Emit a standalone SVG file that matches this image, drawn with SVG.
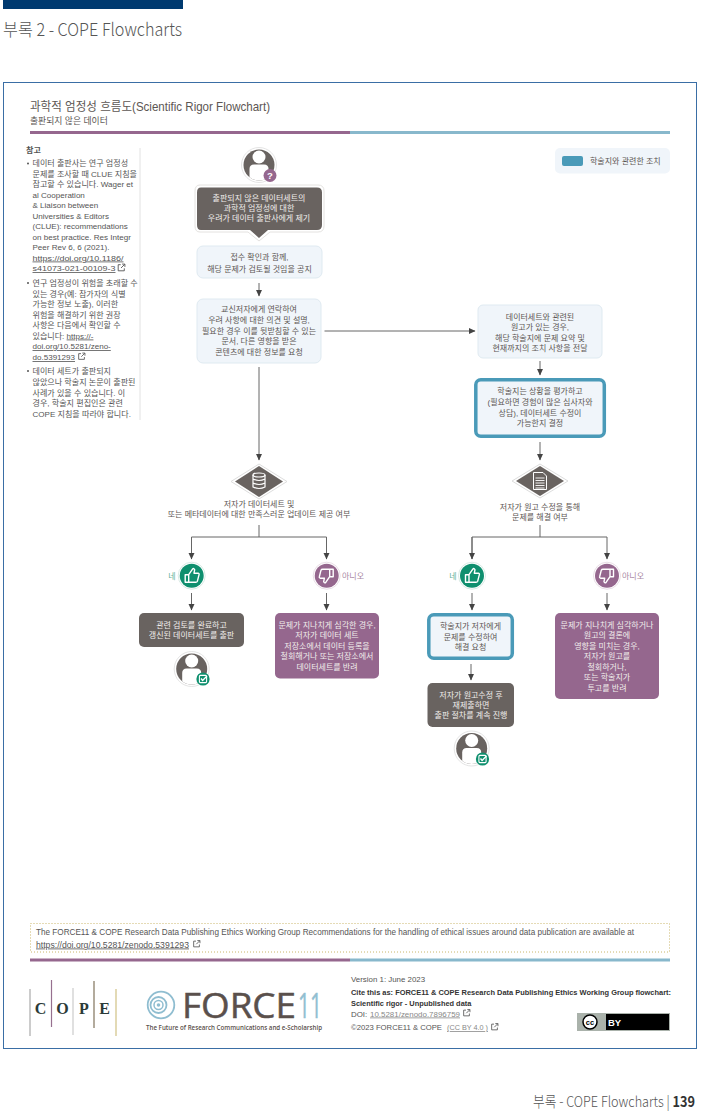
<svg xmlns="http://www.w3.org/2000/svg" xmlns:xlink="http://www.w3.org/1999/xlink" width="704" height="1112" viewBox="0 0 704 1112">
<style>
text{font-family:"Liberation Sans","Noto Sans CJK KR",sans-serif;fill:#5c5653;font-size:8px}
.c{text-anchor:middle}
.w{fill:#f1eeec}
.n{font-size:8.050px;fill:#555}
.b{font-weight:bold}
.u{text-decoration:underline}
.f{font-size:8.200px;fill:#555}
.v{font-size:7.900px;fill:#555}
.k{font-size:7.400px;fill:#333;font-weight:bold}
.l{fill:#888}
.head{font-family:"Noto Sans CJK KR","Open Sans",sans-serif;fill:#555;font-weight:300}
.light{fill:#f0f5fa;stroke:#dfeaf1;stroke-width:1}
.teal{fill:#f0f5fa;stroke:#4a9ab8;stroke-width:3.500}
.gray{fill:#696360}
.pur{fill:#95678e}
.ln{fill:none;stroke:#666;stroke-width:1}
.cope{font-family:"Liberation Serif",serif;font-size:16px;font-weight:bold;fill:#2b3a38;text-anchor:middle}
.force{font-family:"Open Sans",sans-serif;font-size:35px;stroke-width:.5}
</style>
<defs>
<marker id="ah" markerUnits="userSpaceOnUse" markerWidth="7" markerHeight="8" refX="6.500" refY="4" orient="auto"><path d="M0 .8L7 4L0 7.200z" fill="#444"/></marker>
<symbol id="ext" viewBox="0 0 8 8" overflow="visible"><path d="M3.200 1.200H.7V7.300H6.800V4.800M4.600.6H7.400V3.400M7.200.8L3.500 4.500" fill="none" stroke="#555" stroke-width=".9"/></symbol>
<clipPath id="pc"><circle r="15.500"/></clipPath>
<g id="person"><circle r="17.500" fill="#fff" stroke="#ddd" stroke-width=".8"/><circle r="15.500" fill="#696360"/><g clip-path="url(#pc)"><circle cy="-8" r="6.500" fill="#fff"/><path d="M-9.500 17V4Q-9.500 -.5-5-.5H5Q9.500 -.5 9.500 4V17z" fill="#fff"/></g></g>
<g id="okb"><circle r="6.600" fill="#0e8f6e"/><rect x="-3.600" y="-3.600" width="7.200" height="7.200" rx="1" fill="none" stroke="#fff" stroke-width="1.100"/><path d="M-2-.5L-.4 1.500L4-3" fill="none" stroke="#fff" stroke-width="1.300"/></g>
<path id="thumb" d="M-6.500 -1H-3V6.500H-6.500zM-3 -1L.8-6.500Q2-8 3-6L2.300-2.500H6.500Q7.800-2 7.300-.8L5.700 5.500Q5.300 6.500 4 6.500H-3" fill="none" stroke="#fff" stroke-width="1.400" stroke-linejoin="round"/>
</defs>

<g id="header">
<rect x="3" y="0" width="180" height="9" fill="#003a70"/>
<text x="3" y="36" class="head" style="font-size:17.500px" textLength="179" lengthAdjust="spacingAndGlyphs">부록 2 - COPE Flowcharts</text>
<text x="533" y="1107" class="head" style="font-size:14.500px" textLength="162" lengthAdjust="spacingAndGlyphs">부록 - COPE Flowcharts | <tspan font-weight="bold" fill="#333">139</tspan></text>
</g>
<rect id="frame" x="3.500" y="82.500" width="693" height="966" fill="#fff" stroke="#3a6ea5" stroke-width="1"/>

<g id="title">
<text x="30" y="111" style="font-size:12.400px" fill="#555" textLength="240" lengthAdjust="spacingAndGlyphs">과학적 엄정성 흐름도(Scientific Rigor Flowchart)</text>
<text x="30" y="124" style="font-size:8.800px">출판되지 않은 데이터</text>
<rect x="30" y="131" width="320" height="3" fill="#95678e"/><rect x="350" y="131" width="320" height="3" fill="#88b8cc"/>
</g>

<g id="notes">
<text x="26" y="153" class="n b">참고</text>
<path d="M140 148V420" stroke="#e2e2e2" stroke-width="1"/>
<circle cx="28" cy="163.500" r="1" fill="#555"/><circle cx="28" cy="283" r="1" fill="#555"/><circle cx="28" cy="371" r="1" fill="#555"/>
<text x="32.500" y="166" class="n">데이터 출판사는 연구 엄정성</text>
<text x="32.500" y="176.500" class="n">문제를 조사할 때 CLUE 지침을</text>
<text x="32.500" y="187" class="n">참고할 수 있습니다. Wager et</text>
<text x="32.500" y="197.500" class="n">al Cooperation</text>
<text x="32.500" y="208" class="n">&amp; Liaison between</text>
<text x="32.500" y="218.500" class="n">Universities &amp; Editors</text>
<text x="32.500" y="229" class="n">(CLUE): recommendations</text>
<text x="32.500" y="239.500" class="n">on best practice. Res Integr</text>
<text x="32.500" y="250" class="n">Peer Rev 6, 6 (2021).</text>
<text x="32.500" y="260.500" class="n u" textLength="91" lengthAdjust="spacingAndGlyphs">https://doi.org/10.1186/</text>
<text x="32.500" y="271" class="n u" textLength="83" lengthAdjust="spacingAndGlyphs">s41073-021-00109-3</text>
<use xlink:href="#ext" x="117.500" y="263.500" width="8" height="8"/>
<text x="32.500" y="286" class="n">연구 엄정성이 위험을 초래할 수</text>
<text x="32.500" y="296.500" class="n">있는 경우(예: 참가자의 식별</text>
<text x="32.500" y="307" class="n">가능한 정보 노출), 이러한</text>
<text x="32.500" y="317.500" class="n">위험을 해결하기 위한 권장</text>
<text x="32.500" y="328" class="n">사항은 다음에서 확인할 수</text>
<text x="32.500" y="338.500" class="n">있습니다: <tspan class="u">https://-</tspan></text>
<text x="32.500" y="349" class="n u">doi.org/10.5281/zeno-</text>
<text x="32.500" y="360" class="n u">do.5391293</text>
<use xlink:href="#ext" x="78" y="352.500" width="7.500" height="7.500"/>
<text x="32.500" y="374" class="n">데이터 세트가 출판되지</text>
<text x="32.500" y="385" class="n">않았으나 학술지 논문이 출판된</text>
<text x="32.500" y="395.500" class="n">사례가 있을 수 있습니다. 이</text>
<text x="32.500" y="406" class="n">경우, 학술지 편집인은 관련</text>
<text x="32.500" y="416.500" class="n">COPE 지침을 따라야 합니다.</text>
</g>

<g id="legend">
<rect x="555" y="148" width="115" height="25.500" rx="5" fill="#f0f5fa"/>
<rect x="562" y="156" width="21" height="10" rx="2" fill="#4a9ab8"/>
<text x="590" y="164">학술지와 관련한 조치</text>
</g>

<g id="connectors">
<path class="ln" d="M259 283V296" marker-end="url(#ah)"/>
<path class="ln" d="M259 367V460" marker-end="url(#ah)"/>
<path class="ln" d="M324.500 331H475" marker-end="url(#ah)"/>
<path class="ln" d="M540 361V375" marker-end="url(#ah)"/>
<path class="ln" d="M540 442V460" marker-end="url(#ah)"/>
<path class="ln" d="M259 525V537M191.500 559V537H326.500V559" marker-end="url(#ah)"/>
<path class="ln" d="M191.500 537V559" marker-end="url(#ah)"/>
<path class="ln" d="M540 525V537M472 559V537H607V559" marker-end="url(#ah)"/>
<path class="ln" d="M472 537V559" marker-end="url(#ah)"/>
<path class="ln" d="M191.500 593V610" marker-end="url(#ah)"/>
<path class="ln" d="M326.500 593V610" marker-end="url(#ah)"/>
<path class="ln" d="M472 593V610" marker-end="url(#ah)"/>
<path class="ln" d="M607 593V610" marker-end="url(#ah)"/>
<path class="ln" d="M471 664V680" marker-end="url(#ah)"/>
</g>

<g id="start">
<use xlink:href="#person" x="259" y="165"/>
<circle cx="270" cy="175.500" r="6.500" fill="#95678e"/>
<text x="270" y="178.800" class="c b" style="font-size:9.500px;fill:#fff">?</text>
</g>
<g id="n1">
<path d="M200 185H318Q324 185 324 191V226Q324 232 318 232H270L259 241L248 232H200Q195 232 195 226V191Q195 185 200 185z" fill="#fff" stroke="#e4e2e0"/>
<path d="M201 187.500H317Q322 187.500 322 192.500V225Q322 230 317 230H268L259 238L250 230H201Q197 230 197 225V192.500Q197 187.500 201 187.500z" fill="#696360"/>
<text x="259" y="201" class="c w">출판되지 않은 데이터세트의</text>
<text x="259" y="211" class="c w">과학적 엄정성에 대한</text>
<text x="259" y="221" class="c w">우려가 데이터 출판사에게 제기</text>
</g>
<g id="n2">
<rect x="197" y="246" width="125" height="32" rx="6" class="light"/>
<text x="259.500" y="260" class="c">접수 확인과 함께,</text>
<text x="259.500" y="272" class="c">해당 문제가 검토될 것임을 공지</text>
</g>
<g id="n3">
<rect x="197" y="299" width="124" height="64" rx="6" class="light"/>
<text x="259" y="312" class="c">교신저자에게 연락하여</text>
<text x="259" y="323" class="c">우려 사항에 대한 의견 및 설명,</text>
<text x="259" y="333.500" class="c">필요한 경우 이를 뒷받침할 수 있는</text>
<text x="259" y="344" class="c">문서, 다른 영향을 받은</text>
<text x="259" y="355" class="c">콘텐츠에 대한 정보를 요청</text>
</g>
<g id="n4">
<rect x="478" y="305" width="124" height="53" rx="5" class="light"/>
<text x="540" y="320" class="c">데이터세트와 관련된</text>
<text x="540" y="330" class="c">원고가 있는 경우,</text>
<text x="540" y="340.500" class="c">해당 학술지에 문제 요약 및</text>
<text x="540" y="351" class="c">현재까지의 조치 사항을 전달</text>
</g>
<g id="n5">
<rect x="475.800" y="379.800" width="128.500" height="56.500" rx="5" class="teal"/>
<text x="540" y="394" class="c">학술지는 상황을 평가하고</text>
<text x="540" y="405" class="c">(필요하면 경험이 많은 심사자와</text>
<text x="540" y="416" class="c">상담), 데이터세트 수정이</text>
<text x="540" y="426" class="c">가능한지 결정</text>
</g>
<g id="d1">
<path d="M259 464L287 481.500L259 499L231 481.500z" fill="#fff" stroke="#ddd"/>
<path d="M259 466L283 481.500L259 497L235 481.500z" fill="#696360"/>
<g fill="none" stroke="#fff" stroke-width="1.200"><ellipse cx="259" cy="475" rx="6" ry="2"/><path d="M253 475V487Q259 490 265 487V475M253 479Q259 482 265 479M253 483Q259 486 265 483"/></g>
<text x="259" y="507" class="c">저자가 데이터세트 및</text>
<text x="259" y="517" class="c">또는 메타데이터에 대한 만족스러운 업데이트 제공 여부</text>
</g>
<g id="d2">
<path d="M540 464L568 481L540 498L512 481z" fill="#fff" stroke="#ddd"/>
<path d="M540 466L564 481L540 496L516 481z" fill="#696360"/>
<path d="M533.500 472.500H543L546.500 476V489.500H533.500z" fill="none" stroke="#fff" stroke-width="1"/>
<path d="M535.500 478H544.500M535.500 480.500H544.500M535.500 483H544.500M535.500 485.500H544.500M535.500 488H544.500" stroke="#fff" stroke-width=".9"/>
<text x="540" y="510" class="c">저자가 원고 수정을 통해</text>
<text x="540" y="520" class="c">문제를 해결 여부</text>
</g>

<g id="y1"><circle cx="191.700" cy="575.700" r="13.500" fill="#fff" stroke="#cfe5dd" stroke-width=".8"/><circle cx="191.700" cy="575.700" r="12" fill="#0e8f6e"/><use xlink:href="#thumb" x="191.700" y="575.700"/><text x="172" y="579" class="c" style="fill:#5fae97">네</text></g>
<g id="no1"><circle cx="326.700" cy="575.700" r="13.500" fill="#fff" stroke="#e3d6e0" stroke-width=".8"/><circle cx="326.700" cy="575.700" r="12" fill="#95678e"/><use xlink:href="#thumb" transform="translate(326.700 575.700) rotate(180)"/><text x="353" y="579" class="c" style="fill:#a888a3">아니오</text></g>
<g id="y2"><circle cx="472" cy="575.700" r="13.500" fill="#fff" stroke="#cfe5dd" stroke-width=".8"/><circle cx="472" cy="575.700" r="12" fill="#0e8f6e"/><use xlink:href="#thumb" x="472" y="575.700"/><text x="453" y="579" class="c" style="fill:#5fae97">네</text></g>
<g id="no2"><circle cx="607" cy="575.700" r="13.500" fill="#fff" stroke="#e3d6e0" stroke-width=".8"/><circle cx="607" cy="575.700" r="12" fill="#95678e"/><use xlink:href="#thumb" transform="translate(607 575.700) rotate(180)"/><text x="633" y="579" class="c" style="fill:#a888a3">아니오</text></g>

<g id="n6">
<rect x="139" y="613" width="105" height="34" rx="5" class="gray"/>
<text x="191.500" y="627.500" class="c w">관련 검토를 완료하고</text>
<text x="191.500" y="638" class="c w">갱신된 데이터세트를 출판</text>
<use xlink:href="#person" x="191.700" y="669"/><use xlink:href="#okb" x="203" y="679"/>
</g>
<g id="n7">
<rect x="275" y="613" width="104" height="65.500" rx="5" class="pur"/>
<text x="327" y="628" class="c w">문제가 지나치게 심각한 경우,</text>
<text x="327" y="638" class="c w">저자가 데이터 세트</text>
<text x="327" y="648.500" class="c w">저장소에서 데이터 등록을</text>
<text x="327" y="659" class="c w">철회해거나 또는 저장소에서</text>
<text x="327" y="669.500" class="c w">데이터세트를 반려</text>
</g>
<g id="n8">
<rect x="428.800" y="614.800" width="83.500" height="43.500" rx="5" class="teal"/>
<text x="470.500" y="629" class="c">학술지가 저자에게</text>
<text x="470.500" y="640" class="c">문제를 수정하여</text>
<text x="470.500" y="650" class="c">해결 요청</text>
</g>
<g id="n9">
<rect x="427.500" y="683" width="86.500" height="44" rx="5" class="gray"/>
<text x="471" y="698" class="c w">저자가 원고수정 후</text>
<text x="471" y="708" class="c w">재제출하면</text>
<text x="471" y="718" class="c w">출판 절차를 계속 진행</text>
<use xlink:href="#person" x="471.700" y="748.500"/><use xlink:href="#okb" x="482.500" y="759"/>
</g>
<g id="n10">
<rect x="555" y="613" width="104" height="86" rx="5" class="pur"/>
<text x="607" y="628" class="c w">문제가 지나치게 심각하거나</text>
<text x="607" y="638" class="c w">원고의 결론에</text>
<text x="607" y="649" class="c w">영향을 미치는 경우,</text>
<text x="607" y="659" class="c w">저자가 원고를</text>
<text x="607" y="670" class="c w">철회하거나,</text>
<text x="607" y="680" class="c w">또는 학술지가</text>
<text x="607" y="690.500" class="c w">투고를 반려</text>
</g>

<g id="footer">
<rect x="30.500" y="923.500" width="639" height="28.500" fill="none" stroke="#c4ae5a" stroke-width=".9" stroke-dasharray="1 2"/>
<text x="36" y="935" class="f" textLength="598" lengthAdjust="spacingAndGlyphs">The FORCE11 &amp; COPE Research Data Publishing Ethics Working Group Recommendations for the handling of ethical issues around data publication are available at</text>
<text x="36" y="947.500" class="f u" textLength="153" lengthAdjust="spacingAndGlyphs">https://doi.org/10.5281/zenodo.5391293</text>
<use xlink:href="#ext" x="193" y="940" width="7.500" height="7.500"/>
<rect x="30" y="958.500" width="320" height="3" fill="#95678e"/><rect x="350" y="958.500" width="320" height="3" fill="#88b8cc"/>
<text x="351" y="982" class="v">Version 1: June 2023</text>
<text x="351" y="995" class="k" textLength="320" lengthAdjust="spacingAndGlyphs">Cite this as: FORCE11 &amp; COPE Research Data Publishing Ethics Working Group flowchart:</text>
<text x="351" y="1006" class="k">Scientific rigor - Unpublished data</text>
<text x="351" y="1016.500" class="v">DOI:</text>
<text x="370" y="1016.500" class="v u l" textLength="90" lengthAdjust="spacingAndGlyphs">10.5281/zenodo.7896759</text>
<use xlink:href="#ext" x="463" y="1009" width="7.500" height="7.500"/>
<text x="351" y="1030" class="v" textLength="91" lengthAdjust="spacingAndGlyphs">©2023 FORCE11 &amp; COPE</text>
<text x="447" y="1030" class="v u l" textLength="41" lengthAdjust="spacingAndGlyphs">(CC BY 4.0 )</text>
<use xlink:href="#ext" x="491" y="1023" width="7.500" height="7.500"/>
</g>

<g id="cc">
<rect x="577" y="1013" width="93" height="18" fill="#aab2ab"/>
<rect x="578" y="1014" width="91" height="16" fill="#000"/>
<rect x="578" y="1014" width="28" height="16" fill="#aab2ab"/>
<circle cx="590" cy="1022" r="7" fill="#fff" stroke="#000" stroke-width="1.500"/>
<text x="590" y="1024.500" class="c b" style="font-size:7.500px;fill:#000">cc</text>
<text x="608" y="1026" class="b" style="font-size:9.500px;fill:#fff">BY</text>
</g>

<g id="cope">
<path d="M30 989V1036" stroke="#aaa" stroke-width="1.200"/><path d="M51.500 980V1027" stroke="#96708f" stroke-width="1.200"/><path d="M73 988V1035" stroke="#ccc" stroke-width="1.200"/><path d="M94 981V1028" stroke="#80735c" stroke-width="1.200"/><path d="M116 989V1036" stroke="#d0c184" stroke-width="1.200"/>
<text x="40.500" y="1014" class="cope">C</text><text x="62.500" y="1014" class="cope">O</text><text x="84" y="1014" class="cope">P</text><text x="104.500" y="1014" class="cope">E</text>
</g>
<g id="force11">
<circle cx="161" cy="1005" r="13.300" fill="none" stroke="#8fbdd0" stroke-width="1.800"/><circle cx="158.500" cy="1005" r="8" fill="none" stroke="#8fbdd0" stroke-width="1.800"/><circle cx="158.500" cy="1005" r="4.500" fill="none" stroke="#8fbdd0" stroke-width="1.500"/><circle cx="158.500" cy="1005" r="1.800" fill="#8fbdd0"/>
<text x="182" y="1018" textLength="114" lengthAdjust="spacingAndGlyphs" class="force" style="fill:#5a504c;stroke:#5a504c">FORCE</text>
<text x="298" y="1018" textLength="24" lengthAdjust="spacingAndGlyphs" class="force" style="fill:#92bfd2;stroke:#92bfd2">11</text>
<text x="146" y="1030" textLength="176" lengthAdjust="spacingAndGlyphs" style="font-family:'Open Sans',sans-serif;font-size:7.600px;font-weight:600;fill:#5a504c">The Future of Research Communications and e-Scholarship</text>
</g>
</svg>
